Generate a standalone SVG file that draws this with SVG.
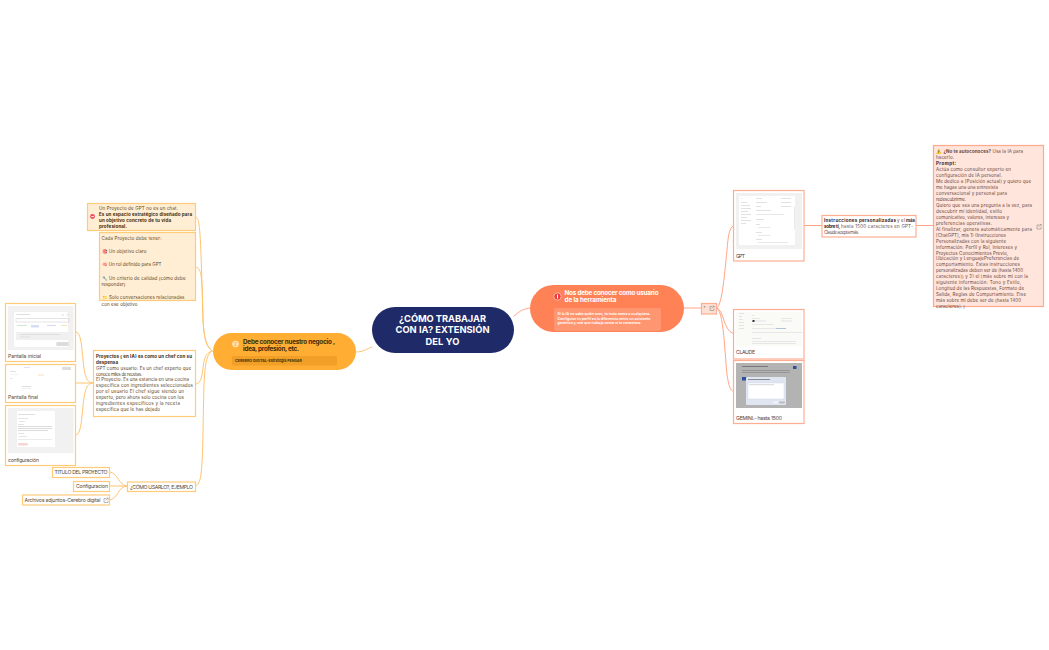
<svg xmlns="http://www.w3.org/2000/svg" width="1049" height="650" viewBox="0 0 1049 650">
<style>
text{font-family:Inter,"Liberation Sans",sans-serif;font-size:4.5px;fill:#5c4520}
.b{font-weight:700}
.c{fill:none;stroke-width:1;stroke-linecap:round}
.co{stroke:#ffc46e}
.cr{stroke:#ffa585}
.ln{fill:#ffeed4;stroke:#ffcb78;stroke-width:1.200}
.lw{fill:#fff;stroke:#ffcb78;stroke-width:1.200}
.rw{fill:#fff;stroke:#ffad92;stroke-width:1.200}
.gr{fill:#f1f1f1}
.w{fill:#fff}
.d{fill:#dedede}
.lab{font-size:5.200px;fill:#5a4a30}
.labr{font-size:5.200px;fill:#5a3a30}
.ext{fill:none;stroke:#777;stroke-width:.5}
.p{fill:#6a483c}
</style>
<g id="connectors">
<path class="c co" d="M356 352C364 352 366 349 372 347"/>
<path class="c co" d="M212 351C206 346 204 338 203 320C202 290 201 235 199 225C198.500 220 197.500 218 196 217"/>
<path class="c co" d="M212 351C206 346 204 338 203 320C202.500 300 202.500 285 201 275C200 270 198 267 196 267"/>
<path class="c co" d="M212 351C205 353 204 360 203 368C202 378 200 384 196 384"/>
<path class="c co" d="M212 351C207 354 205 362 204 385C203 420 203 460 201 474C200 482 198 486 195 486"/>
<path class="c co" d="M93 383C84 383 84 368 82 350C81 338 79 332 76 332"/>
<path class="c co" d="M93 383H76"/>
<path class="c co" d="M93 383C84 383 84 398 82 416C81 428 79 435 76 435"/>
<path class="c co" d="M127 486C119 486 118 473 110 472"/>
<path class="c co" d="M127 486H110"/>
<path class="c co" d="M127 486C118 486 118 499 110 500"/>
<path class="c cr" d="M514 316C521 310 524 309 530 308"/>
<path class="c cr" d="M684 308H701"/>
<path class="c cr" d="M717 308C722 304 724 280 727 250C728 238 729 228 733 226"/>
<path class="c cr" d="M717 308C724 310 723 330 733 333.500"/>
<path class="c cr" d="M717 308C725 312 725 370 728 380C729 387 731 391 733 391"/>
<path class="c cr" d="M804 225.500H822"/>
<path class="c cr" d="M916 225.500H933"/>
</g>
<g id="root">
<rect x="372" y="307" width="142" height="46" rx="23" fill="#1f2a68"/>
<g text-anchor="middle">
<text x="442.500" y="321.500" class="b" style="fill:#fff;font-size:9.300px" textLength="87">¿CÓMO TRABAJAR</text>
<text x="442.500" y="333" class="b" style="fill:#fff;font-size:9.300px" textLength="94">CON IA? EXTENSIÓN</text>
<text x="442.500" y="344.500" class="b" style="fill:#fff;font-size:9.300px" textLength="34">DEL YO</text>
</g>
</g>
<g id="branch-left">
<rect x="213" y="333" width="143" height="37" rx="18.500" fill="#ffad33"/>
<circle cx="235.500" cy="344" r="3.300" fill="#ffe2b3"/>
<text x="235.500" y="345.700" text-anchor="middle" style="font-size:4.500px;fill:#ffad33" class="b">2</text>
<text x="243" y="343.500" class="b" style="font-size:6.300px;fill:#3c2a08" textLength="92">Debe conocer nuestro negocio ,</text>
<text x="243" y="350.500" class="b" style="font-size:6.300px;fill:#3c2a08" textLength="56">idea, profesión, etc.</text>
<rect x="232" y="356" width="105" height="9.500" rx="1.500" fill="#f29f28"/>
<text x="235" y="362" class="b" style="font-size:3.700px;fill:#4a3208" textLength="67">CEREBRO DIGITAL-Estrategia PENSAR</text>
</g>
<g id="branch-right">
<rect x="530" y="285" width="154" height="47" rx="23.500" fill="#ff8257"/>
<circle cx="557.500" cy="296.500" r="3.600" fill="#ee3b3b" stroke="#ffd5c8" stroke-width=".7"/>
<rect x="557" y="294.500" width="1" height="4" fill="#fff"/>
<text x="564.500" y="295" class="b" style="font-size:6.300px;fill:#fff" textLength="94">Nos debe conocer como usuario</text>
<text x="564.500" y="302" class="b" style="font-size:6.300px;fill:#fff" textLength="52">de la herramienta</text>
<rect x="554" y="308" width="107" height="23" rx="2" fill="#ff9672"/>
<text x="557.500" y="314.500" style="fill:#fff;font-size:3.600px;font-weight:600" textLength="93">Si la IA no sabe quién eres, te trata como a cualquiera.</text>
<text x="557.500" y="319.500" style="fill:#fff;font-size:3.600px;font-weight:600" textLength="93">Configurar tu perfil es la diferencia entre un asistente</text>
<text x="557.500" y="324" style="fill:#fff;font-size:3.600px;font-weight:600" textLength="84">genérico y uno que trabaja como si te conociera.</text>
</g>
<g id="node-chat">
<rect class="ln" x="87.500" y="203.500" width="108" height="27"/>
<circle cx="92.500" cy="216.500" r="2.400" fill="#ee4a5a"/>
<rect x="91.200" y="216" width="2.600" height=".9" fill="#fff"/>
<text x="99" y="209.500" textLength="79">Un Proyecto de GPT no es un chat.</text>
<text x="99" y="215.500" class="b" style="fill:#3c2a08" textLength="93">Es un espacio estratégico diseñado para</text>
<text x="99" y="221.500" class="b" style="fill:#3c2a08" textLength="72">un objetivo concreto de tu vida</text>
<text x="99" y="227.500" class="b" style="fill:#3c2a08" textLength="28">profesional.</text>
</g>
<g id="node-proyecto">
<rect class="ln" x="99.500" y="232.500" width="96" height="68"/>
<text x="101.500" y="239.700" textLength="60">Cada Proyecto debe tener:</text>
<text x="101.500" y="253" textLength="45">🎯 Un objetivo claro</text>
<text x="101.500" y="266.300" textLength="60">🧠 Un rol definido para GPT</text>
<text x="101.500" y="279.700" textLength="84">🔧 Un criterio de calidad (cómo debe</text>
<text x="101.500" y="286" textLength="24">responder)</text>
<text x="101.500" y="299" textLength="83">📁 Solo conversaciones relacionadas</text>
<text x="101.500" y="305.500" textLength="36">con ese objetivo</text>
</g>
<g id="node-inicial">
<rect class="lw" x="5.500" y="303.500" width="70" height="58"/>
<rect class="gr" x="8" y="306" width="65.500" height="44"/>
<rect class="w" x="14" y="312" width="54" height="35" rx="1.500"/>
<rect x="16" y="318.500" width="53" height="3.500" fill="none" stroke="#bbb" stroke-width=".4" rx=".8"/>
<rect class="d" x="16" y="314" width="14" height="1"/>
<rect class="d" x="62" y="314" width="1.500" height="1.500"/>
<rect class="d" x="67" y="314" width="1.500" height="1.500"/>
<rect x="17" y="325" width="10" height="1" fill="#cfe8d0"/>
<rect x="31" y="325" width="8" height="2.500" fill="#d5def5"/>
<rect x="47" y="325" width="9" height="1" fill="#dcd6f5"/>
<rect x="61" y="325" width="6" height="1" fill="#f5e4bb"/>
<rect x="16" y="332" width="53" height="8" fill="#f0f0f0"/>
<rect class="d" x="20" y="334" width="40" height="1"/>
<rect class="d" x="20" y="336.500" width="10" height="1"/>
<rect x="56" y="342" width="13" height="4" rx="2" fill="#dcdcdc"/>
<text x="8" y="358" class="lab" textLength="33">Pantalla inicial</text>
</g>
<g id="node-final">
<rect class="lw" x="5.500" y="364.500" width="70" height="38"/>
<rect x="24" y="367" width="6" height=".8" fill="#e0d4f5"/>
<rect class="d" x="62" y="367" width="9" height="3"/>
<rect class="d" x="10" y="371" width="6" height=".9"/>
<rect x="10" y="374.500" width="9" height=".6" fill="#e8e8e8"/>
<rect x="38" y="374.500" width="6" height="1" fill="#f3e2bb"/>
<rect class="d" x="10" y="378" width="3" height=".7"/>
<rect class="d" x="22" y="386" width="9" height="1"/>
<rect class="d" x="22" y="388" width="9" height=".5"/>
<text x="8" y="398.500" class="lab" textLength="30">Pantalla final</text>
</g>
<g id="node-config">
<rect class="lw" x="5.500" y="405.500" width="70" height="60"/>
<rect class="gr" x="8" y="408" width="65.500" height="45"/>
<rect class="w" x="17" y="411" width="38" height="36" rx="1"/>
<rect class="d" x="18" y="414" width="17" height="1"/>
<rect class="d" x="18" y="418" width="10" height=".8"/>
<rect class="d" x="19" y="421" width="6" height=".8"/>
<rect class="d" x="18" y="424" width="6" height=".8"/>
<rect x="18" y="426" width="34" height=".7" fill="#ccc"/>
<rect x="18" y="428" width="34" height=".7" fill="#ccc"/>
<rect x="18" y="430" width="30" height=".7" fill="#ccc"/>
<rect class="d" x="18" y="433" width="6" height=".8"/>
<rect class="d" x="19" y="436" width="8" height=".8"/>
<rect class="d" x="18" y="439" width="34" height=".6"/>
<rect x="18" y="443" width="10" height="2.500" rx="1" fill="#f8d4d4"/>
<text x="8" y="462" class="lab" textLength="31">configuración</text>
</g>
<g id="node-chef">
<rect class="lw" x="93.500" y="350.500" width="102" height="66"/>
<text x="96" y="357.500" class="b" style="fill:#3c2a08" textLength="96">Proyectos ( en IA)  es como un chef con su</text>
<text x="96" y="363.500" class="b" style="fill:#3c2a08" textLength="22">despensa</text>
<text x="96" y="369.500" textLength="95">GPT como usuario: Es un chef experto que</text>
<text x="96" y="375.500" textLength="46">conoce miles de recetas.</text>
<text x="96" y="381.300" textLength="93">El Proyecto: Es una estancia en una cocina</text>
<text x="96" y="387.300" textLength="97">específica con ingredientes seleccionados</text>
<text x="96" y="393.200" textLength="88">por el usuario El chef sigue siendo un</text>
<text x="96" y="399" textLength="88">experto, pero ahora solo cocina con los</text>
<text x="96" y="405" textLength="84">ingredientes específicos y la receta</text>
<text x="96" y="411" textLength="64">específica que le has dejado</text>
</g>
<g id="node-uso">
<rect class="lw" x="127.500" y="482" width="68" height="9.500"/>
<text x="130" y="488.500" class="lab" textLength="63">¿CÓMO USARLO?, EJEMPLO</text>
</g>
<g id="node-titulo">
<rect class="lw" x="52.500" y="467.500" width="57" height="10"/>
<text x="54.500" y="474.300" class="lab" textLength="53">TITULO DEL PROYECTO</text>
</g>
<g id="node-configuracion">
<rect class="lw" x="73.500" y="481.500" width="36" height="10"/>
<text x="76" y="488.300" class="lab" textLength="32">Configuracion</text>
</g>
<g id="node-archivos">
<rect class="lw" x="22.500" y="495" width="87" height="10"/>
<text x="24.500" y="501.800" class="lab" textLength="76">Archivos adjuntos-Cerebro digital</text>
<path class="ext" d="M106 498.500h-2v4h4v-2M105.500 500.500l2.500-2.500M106.500 498h1.700v1.700"/>
</g>
<g id="node-toggle">
<rect x="701.500" y="303.500" width="15" height="10.500" fill="#fde0d4" stroke="#ffad92" stroke-width="1.200"/>
<text x="703.500" y="309" style="font-size:4px;fill:#5a3a30">*</text>
<path class="ext" d="M712 306.500h-2v4h4v-2M711.500 308.500l2.500-2.500M712.500 306h1.700v1.700"/>
</g>
<g id="node-gpt">
<rect class="rw" x="733.500" y="190.500" width="70.500" height="70.500"/>
<rect class="gr" x="736" y="193" width="66" height="56"/>
<rect class="w" x="739" y="196" width="56" height="49"/>
<g class="d"><rect x="741" y="198" width="1" height="1"/><rect x="741" y="202" width="6" height=".9"/><rect x="741" y="205" width="9" height=".9"/><rect x="741" y="208" width="10" height=".9"/><rect x="741" y="211" width="7" height=".9"/><rect x="741" y="214" width="10" height=".9"/><rect x="741" y="217" width="6" height=".9"/><rect x="741" y="220" width="10" height=".9"/><rect x="741" y="223" width="5" height=".9"/>
<rect x="756" y="198" width="6" height=".9"/><rect x="781" y="198" width="10" height=".9"/><rect x="756" y="202" width="11" height=".9"/><rect x="781" y="202" width="10" height=".9"/><rect x="756" y="206" width="5" height=".9"/><rect x="781" y="206" width="10" height=".9"/><rect x="756" y="210" width="15" height=".9"/><rect x="756" y="214" width="28" height=".7"/><rect x="756" y="219" width="8" height=".9"/><rect x="756" y="224" width="4" height=".9"/><rect x="758" y="227" width="12" height=".7"/><rect x="756" y="232" width="6" height=".9"/><rect x="758" y="235" width="12" height=".7"/><rect x="756" y="239" width="6" height=".9"/><rect x="758" y="242" width="30" height=".7"/></g>
<rect x="794" y="207" width="1" height="22" fill="#eaeaea"/>
<text x="736" y="258" class="labr" textLength="9">GPT</text>
</g>
<g id="node-instrucciones">
<rect class="rw" x="822" y="215.500" width="94" height="21.500"/>
<text x="824" y="222" class="b" style="fill:#3a2018" textLength="72">Instrucciones personalizadas</text><text x="897" y="222" class="p" textLength="8">y el</text><text x="906" y="222" class="b" style="fill:#3a2018" textLength="9">más</text>
<text x="824" y="228" class="b" style="fill:#3a2018" textLength="16">sobre tí,</text><text x="841" y="228" class="p" textLength="72">hasta 1500 caracteres en GPT-</text>
<text x="824" y="234" class="p" textLength="35">Claude acepta más.</text>
</g>
<g id="node-claude">
<rect class="rw" x="733.500" y="309.500" width="70.500" height="49.500"/>
<rect x="736" y="312" width="66" height="34" fill="#fafaf7"/>
<g class="d"><rect x="739" y="313" width="5" height=".8"/><rect x="739" y="316" width="3" height=".8"/><rect x="739" y="319" width="4" height=".8"/><rect x="739" y="322" width="5" height=".8"/><rect x="739" y="325" width="5" height=".8"/><rect x="739" y="328" width="5" height=".8"/>
<rect x="752" y="315" width="2" height=".8"/><rect x="752" y="318" width="8" height=".7"/><rect x="781" y="318" width="11" height=".7"/><rect x="752" y="320" width="14" height="2" fill="#eee"/><rect x="781" y="320" width="11" height="2" fill="#eee"/><rect x="752" y="324" width="22" height=".7"/><rect x="752" y="328" width="34" height=".7"/><rect x="752" y="332" width="50" height=".7"/><rect x="752" y="338" width="9" height=".8"/><rect x="752" y="341" width="44" height=".7"/><rect x="752" y="343" width="44" height=".7"/></g>
<rect x="752.500" y="320" width="2" height="2" fill="#333"/>
<rect x="776" y="328" width="10" height=".8" fill="#9cbcdc"/>
<text x="736" y="354" class="labr" textLength="19">CLAUDE</text>
</g>
<g id="node-gemini">
<rect class="rw" x="733.500" y="360.500" width="70.500" height="63"/>
<rect x="736" y="363" width="66" height="45" fill="#b3b3b3"/>
<rect x="742" y="366" width="26" height="1" fill="#777"/>
<rect x="793" y="366" width="3.500" height="3" fill="#2e4fa0"/>
<rect x="742" y="370" width="48" height=".7" fill="#888"/>
<rect x="742" y="372" width="48" height=".7" fill="#888"/>
<rect x="742" y="377" width="5" height="3.500" fill="#2e4fa0"/>
<rect x="746" y="377" width="40" height="28" rx="1" fill="#dfe6f2"/>
<rect x="748" y="379" width="22" height=".8" fill="#777"/>
<rect x="748" y="383" width="36" height="16" fill="#fff" stroke="#c8d2e4" stroke-width=".4"/>
<rect x="749" y="384.500" width="25" height=".6" fill="#bbb"/>
<rect x="773" y="401.500" width="5" height="2" rx="1" fill="#f4f4f4"/>
<rect x="779" y="401.500" width="6" height="2" rx="1" fill="#bbb"/>
<text x="736" y="419.500" class="labr" textLength="46">GEMINI.- hasta 1500</text>
</g>
<g id="node-prompt">
<rect x="933.500" y="145.500" width="110" height="161" fill="#ffe5dc" stroke="#ffa98a" stroke-width="1.200"/>
<text x="936" y="153" class="p" textLength="87"><tspan>⚠️ </tspan><tspan class="b">¿No te autoconoces?</tspan> Usa la IA para</text>
<text x="936" y="159" class="p" textLength="18">hacerlo.</text>
<text x="936" y="165" class="b" style="fill:#3a2018" textLength="20">Prompt:</text>
<text x="936" y="171" class="p" textLength="75">Actúa como consultor experto en</text>
<text x="936" y="177" class="p" textLength="66">configuración de IA personal.</text>
<text x="936" y="182.900" class="p" textLength="95">Me dedico a [Posición actual] y quiero que</text>
<text x="936" y="188.900" class="p" textLength="62">me hagas una una entrevista</text>
<text x="936" y="194.800" class="p" textLength="71">conversacional y personal para</text>
<text x="936" y="200.800" class="p" textLength="30">redescubrirme.</text>
<text x="936" y="206.700" class="p" textLength="96">Quiero que sea una pregunta a la vez, para</text>
<text x="936" y="212.700" class="p" textLength="66">descubrir mi identidad, estilo</text>
<text x="936" y="218.700" class="p" textLength="73">comunicativo, valores, intereses y</text>
<text x="936" y="224.600" class="p" textLength="56">preferencias operativas.</text>
<text x="936" y="230.600" class="p" textLength="96">Al finalizar, genera automáticamente para</text>
<text x="936" y="236.600" class="p" textLength="70">[ChatGPT], mis 1) (Instrucciones</text>
<text x="936" y="242.500" class="p" textLength="70">Personalizadas con la siguiente</text>
<text x="936" y="248.500" class="p" textLength="81">información: Perfil y Rol, Intereses y</text>
<text x="936" y="254.500" class="p" textLength="72">Proyectos Conocimientos Previo,</text>
<text x="936" y="260.400" class="p" textLength="83">Ubicación y LenguajePreferencias de</text>
<text x="936" y="266.400" class="p" textLength="84">comportamiento. Estas instrucciones</text>
<text x="936" y="272.400" class="p" textLength="87">personalizadas deben ser de [hasta 1400</text>
<text x="936" y="278.300" class="p" textLength="92">caracteres]) y 2) el [más sobre mí con la</text>
<text x="936" y="284.300" class="p" textLength="85">siguiente información: Tono y Estilo,</text>
<text x="936" y="290.200" class="p" textLength="88">Longitud de las Respuestas, Formato de</text>
<text x="936" y="296.200" class="p" textLength="90">Salida, Reglas de Comportamiento. Etse</text>
<text x="936" y="302.200" class="p" textLength="85">más sobre mí debe ser de  (hasta 1400</text>
<text x="936" y="308" class="p" textLength="29">caracteres]. )</text>
<path class="ext" d="M1039 225h-2v4h4v-2M1038.500 227l2.500-2.500M1039.500 224.500h1.700v1.700"/>
</g>
</svg>
